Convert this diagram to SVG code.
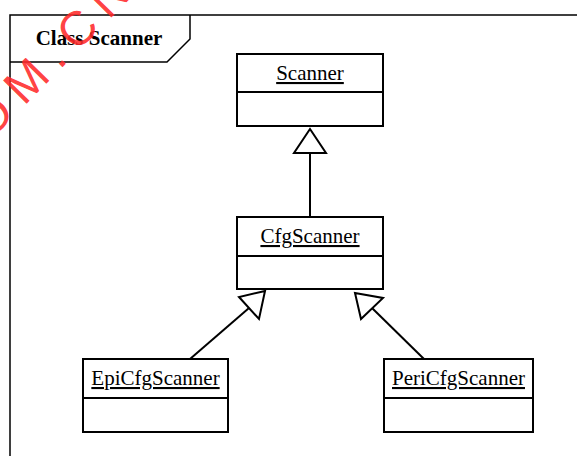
<svg xmlns="http://www.w3.org/2000/svg" width="577" height="456" viewBox="0 0 577 456">
<style>
.box{fill:#fff;stroke:#000;stroke-width:2}
.div{stroke:#000;stroke-width:2}
.lbl{font-family:"Liberation Serif","Times New Roman",serif;font-size:21px;text-anchor:middle;text-decoration:underline;fill:#000}
.con{stroke:#000;stroke-width:2;fill:none}
.tri{fill:#fff;stroke:#000;stroke-width:2;stroke-linejoin:miter}
</style>
<rect width="577" height="456" fill="#fff"/>
<g id="frame">
<path d="M10,460 V15 H580" fill="none" stroke="#000" stroke-width="1.5"/>
<path d="M10,62 H167 L190,39 V15" fill="none" stroke="#000" stroke-width="1.5"/>
<text x="99" y="45" font-family="'Liberation Serif','Times New Roman',serif" font-size="21" font-weight="bold" text-anchor="middle">Class Scanner</text>
</g>
<g id="connectors">
<line class="con" x1="310" y1="153" x2="310" y2="217"/>
<polygon class="tri" points="310,129 294,153 326,153"/>
<line class="con" x1="190" y1="359" x2="249" y2="308"/>
<polygon class="tri" points="265,291 239,297 259,319"/>
<line class="con" x1="424" y1="359" x2="372" y2="308"/>
<polygon class="tri" points="355,293 383,298 361,319"/>
</g>
<g id="Scanner">
<rect class="box" x="237" y="54" width="146" height="72"/>
<line class="div" x1="237" y1="92" x2="383" y2="92"/>
<text class="lbl" x="310" y="80">Scanner</text>
</g>
<g id="CfgScanner">
<rect class="box" x="237" y="217" width="146" height="72"/>
<line class="div" x1="237" y1="256" x2="383" y2="256"/>
<text class="lbl" x="310" y="243">CfgScanner</text>
</g>
<g id="EpiCfgScanner">
<rect class="box" x="83" y="359" width="145" height="73"/>
<line class="div" x1="83" y1="398" x2="228" y2="398"/>
<text class="lbl" x="155.5" y="385">EpiCfgScanner</text>
</g>
<g id="PeriCfgScanner">
<rect class="box" x="384" y="359" width="149" height="73"/>
<line class="div" x1="384" y1="398" x2="533" y2="398"/>
<text class="lbl" x="458.5" y="385">PeriCfgScanner</text>
</g>
<text x="-10" y="141" transform="rotate(-45.5 -10 141)" font-family="'Liberation Sans',Arial,sans-serif" font-size="48" letter-spacing="11" fill="#ff2a2a" fill-opacity="0.9">OM.CN</text>
</svg>
